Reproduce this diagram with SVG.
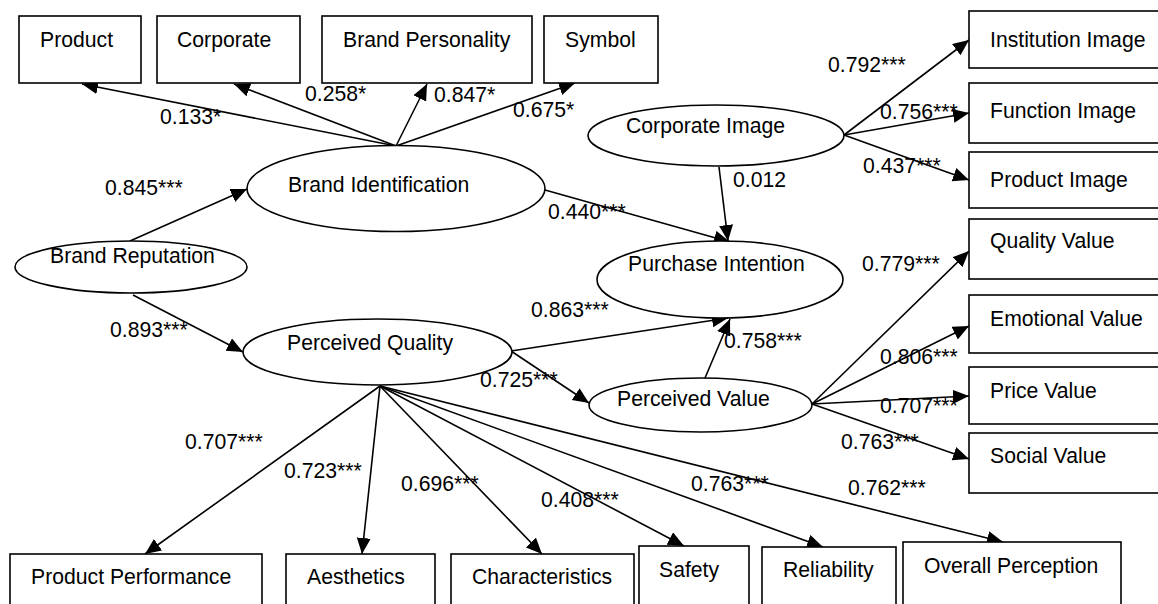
<svg xmlns="http://www.w3.org/2000/svg" width="1158" height="604" viewBox="0 0 1158 604">
<style>
.box{fill:#fff;stroke:#000;stroke-width:1.6}
.ell{fill:#fff;stroke:#000;stroke-width:1.6}
.t{font-family:"Liberation Sans",Arial,sans-serif;font-size:21.2px;fill:#000}
.c line{stroke:#000;stroke-width:1.6;marker-end:url(#ah)}
</style>
<defs>
<marker id="ah" markerUnits="userSpaceOnUse" markerWidth="17" markerHeight="15" refX="16" refY="7" orient="auto">
<path d="M0,0 L16,7 L0,14 z" fill="#000"/>
</marker>
</defs>
<rect width="1158" height="604" fill="#fff"/>

<g id="connectors" class="c">
<line x1="396" y1="146" x2="82" y2="84"/>
<line x1="396" y1="146" x2="234" y2="84"/>
<line x1="396" y1="146" x2="427" y2="84"/>
<line x1="396" y1="146" x2="575" y2="83"/>
<line x1="130" y1="241" x2="247" y2="189"/>
<line x1="133" y1="295" x2="243" y2="352"/>
<line x1="545" y1="190" x2="730" y2="242"/>
<line x1="719" y1="167" x2="728" y2="241"/>
<line x1="844" y1="135" x2="969" y2="40"/>
<line x1="844" y1="135" x2="969" y2="113"/>
<line x1="844" y1="135" x2="969" y2="180"/>
<line x1="511" y1="351" x2="728" y2="318"/>
<line x1="705" y1="378" x2="730" y2="319"/>
<line x1="511" y1="351" x2="589" y2="403"/>
<line x1="812" y1="404" x2="969" y2="251"/>
<line x1="812" y1="404" x2="969" y2="326"/>
<line x1="812" y1="404" x2="969" y2="396"/>
<line x1="812" y1="404" x2="969" y2="459"/>
<line x1="380" y1="386" x2="145" y2="554"/>
<line x1="380" y1="386" x2="362" y2="554"/>
<line x1="380" y1="386" x2="542" y2="554"/>
<line x1="380" y1="386" x2="684" y2="546"/>
<line x1="380" y1="386" x2="823" y2="547"/>
<line x1="380" y1="386" x2="1003" y2="542"/>
</g>

<g id="labels" class="t">
<text x="160" y="124">0.133*</text>
<text x="305" y="101">0.258*</text>
<text x="434" y="102">0.847*</text>
<text x="513" y="117">0.675*</text>
<text x="105" y="195">0.845***</text>
<text x="110" y="337">0.893***</text>
<text x="548" y="219">0.440***</text>
<text x="733" y="187">0.012</text>
<text x="828" y="72">0.792***</text>
<text x="880" y="119">0.756***</text>
<text x="863" y="173">0.437***</text>
<text x="531" y="317">0.863***</text>
<text x="724" y="348">0.758***</text>
<text x="480" y="387">0.725***</text>
<text x="862" y="271">0.779***</text>
<text x="880" y="364">0.806***</text>
<text x="880" y="413">0.707***</text>
<text x="841" y="449">0.763***</text>
<text x="185" y="449">0.707***</text>
<text x="284" y="478">0.723***</text>
<text x="401" y="491">0.696***</text>
<text x="541" y="507">0.408***</text>
<text x="691" y="491">0.763***</text>
<text x="848" y="495">0.762***</text>
</g>

<g id="n-product"><rect class="box" x="19" y="16" width="122" height="67"/><text class="t" x="40" y="47">Product</text></g>
<g id="n-corporate"><rect class="box" x="157" y="16" width="143" height="67"/><text class="t" x="177" y="47">Corporate</text></g>
<g id="n-brand-personality"><rect class="box" x="322" y="16" width="210" height="67"/><text class="t" x="343" y="47">Brand Personality</text></g>
<g id="n-symbol"><rect class="box" x="544" y="16" width="114" height="67"/><text class="t" x="565" y="47">Symbol</text></g>

<g id="n-institution-image"><rect class="box" x="969" y="11" width="200" height="57"/><text class="t" x="990" y="47">Institution Image</text></g>
<g id="n-function-image"><rect class="box" x="969" y="83" width="200" height="60"/><text class="t" x="990" y="118">Function Image</text></g>
<g id="n-product-image"><rect class="box" x="969" y="152" width="200" height="56"/><text class="t" x="990" y="187">Product Image</text></g>
<g id="n-quality-value"><rect class="box" x="969" y="219" width="200" height="60"/><text class="t" x="990" y="248">Quality Value</text></g>
<g id="n-emotional-value"><rect class="box" x="969" y="295" width="200" height="58"/><text class="t" x="990" y="326">Emotional Value</text></g>
<g id="n-price-value"><rect class="box" x="969" y="367" width="200" height="57"/><text class="t" x="990" y="398">Price Value</text></g>
<g id="n-social-value"><rect class="box" x="969" y="433" width="200" height="60"/><text class="t" x="990" y="463">Social Value</text></g>

<g id="n-product-performance"><rect class="box" x="10" y="554" width="252" height="60"/><text class="t" x="31" y="584">Product Performance</text></g>
<g id="n-aesthetics"><rect class="box" x="286" y="554" width="149" height="60"/><text class="t" x="307" y="584">Aesthetics</text></g>
<g id="n-characteristics"><rect class="box" x="451" y="554" width="183" height="60"/><text class="t" x="472" y="584">Characteristics</text></g>
<g id="n-safety"><rect class="box" x="639" y="546" width="110" height="68"/><text class="t" x="659" y="577">Safety</text></g>
<g id="n-reliability"><rect class="box" x="762" y="547" width="134" height="67"/><text class="t" x="783" y="577">Reliability</text></g>
<g id="n-overall-perception"><rect class="box" x="903" y="542" width="218" height="72"/><text class="t" x="924" y="573">Overall Perception</text></g>

<g id="n-brand-reputation"><ellipse class="ell" cx="131" cy="267" rx="116" ry="26"/><text class="t" x="50" y="263">Brand Reputation</text></g>
<g id="n-brand-identification"><ellipse class="ell" cx="396" cy="188.5" rx="149" ry="43"/><text class="t" x="288" y="192">Brand Identification</text></g>
<g id="n-corporate-image"><ellipse class="ell" cx="716" cy="135.5" rx="128" ry="30.5"/><text class="t" x="626" y="133">Corporate Image</text></g>
<g id="n-purchase-intention"><ellipse class="ell" cx="720" cy="279.5" rx="123" ry="38.5"/><text class="t" x="628" y="271">Purchase Intention</text></g>
<g id="n-perceived-quality"><ellipse class="ell" cx="377.5" cy="352" rx="134.5" ry="33"/><text class="t" x="287" y="350">Perceived Quality</text></g>
<g id="n-perceived-value"><ellipse class="ell" cx="700.5" cy="405" rx="111.5" ry="27"/><text class="t" x="617" y="406">Perceived Value</text></g>
</svg>
